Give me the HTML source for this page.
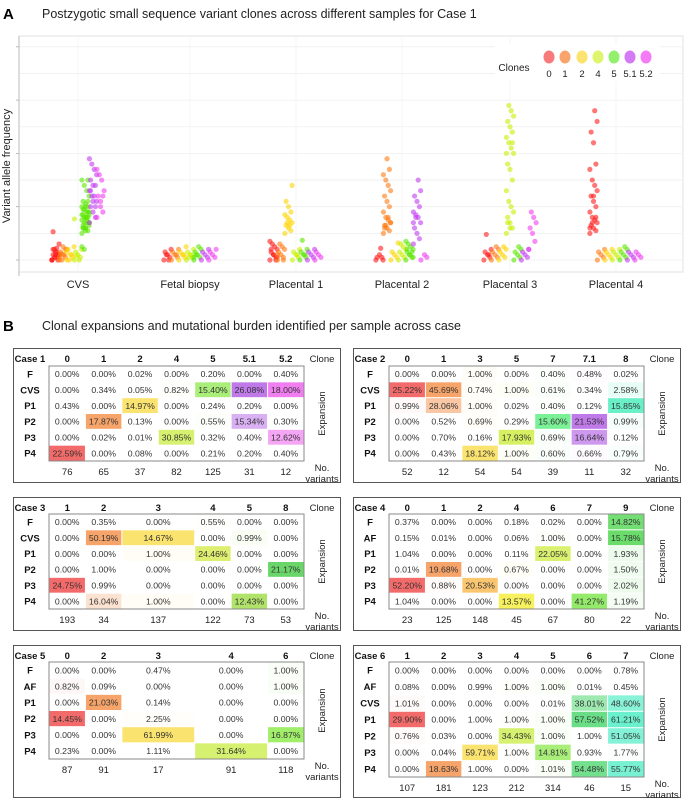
<!DOCTYPE html>
<html><head><meta charset="utf-8">
<style>
html,body{margin:0;padding:0;background:#fff;}
svg{display:block;font-family:"Liberation Sans",sans-serif;}
</style></head>
<body>
<svg id="root" width="685" height="799" viewBox="0 0 685 799" xmlns="http://www.w3.org/2000/svg">
<text x="3" y="19" font-size="15" font-weight="bold">A</text>
<text x="42" y="18" font-size="12.5" fill="#222">Postzygotic small sequence variant clones across different samples for Case 1</text>
<g id="scatter"></g>
<text x="3" y="331" font-size="15" font-weight="bold">B</text>
<text x="42" y="330" font-size="12.5" fill="#222">Clonal expansions and mutational burden identified per sample across case</text>
<g id="tables"></g>
</svg>
<script>
// ---------- Panel A data ----------
var samples = ["CVS","Fetal biopsy","Placental 1","Placental 2","Placental 3","Placental 4"];
var cloneLabels = ["0","1","2","4","5","5.1","5.2"];
var cloneColors = ["#ff1a1a","#ff7a10","#ffd400","#c8f000","#5ae600","#c23cf0","#f03cf0"];
var legendColors = ["#f87a7a","#f9a46c","#fbe36e","#dff56e","#92f06c","#d47af5","#f57af5"];
var vafCVS = [
 [0,0,0.005,0.01,0.01,0.015,0.02,0,0.005,0.01,0.02,0.03,0.022,0.005,0,0.01,0.015,0.053],
 [0,0.005,0.01,0.015,0.02,0.01,0,0.005,0.02,0.025,0.012],
 [0,0.005,0.01,0.02,0.025,0.01,0,0.015],
 [0,0.005,0.01,0.015,0.02,0,0.008,0.077],
 [0.05,0.055,0.06,0.06,0.065,0.07,0.07,0.075,0.08,0.08,0.085,0.09,0.09,0.095,0.1,0.1,0.105,0.11,0.12,0.13,0.14,0.15,0.15,0.06,0.065,0.07,0.075,0.08,0.085,0.09,0.055,0.06,0.07,0.08,0.02,0.025,0.11,0.1,0.095,0.085],
 [0.07,0.08,0.09,0.1,0.11,0.12,0.12,0.13,0.14,0.14,0.15,0.16,0.17,0.18,0.19,0.1,0.11,0.13],
 [0.08,0.09,0.11,0.12,0.13,0.15,0.16,0.17,0.12,0.1]
];
var vafFetal = [
 [0,0.005,0.01,0.015,0.02,0,0.01],
 [0,0.005,0.01,0.015,0.02,0.01],
 [0,0.005,0.01,0.015,0.025,0.01],
 [0,0.005,0.01,0.015,0.02,0.01,0.005],
 [0,0.005,0.01,0.015,0.02,0.025,0.01,0.005],
 [0,0.005,0.01,0.015,0.02],
 [0,0.005,0.01,0.015,0.02]
];
var vafP1 = [
 [0,0.005,0.01,0.015,0.02,0.025,0.03,0.035,0,0.01,0.02,0.005],
 [0,0.005,0.01,0.015,0.02,0.025,0.03,0.01,0],
 [0.05,0.055,0.06,0.065,0.07,0.075,0.08,0.085,0.09,0.1,0.11,0.14,0.065,0.07],
 [0,0.005,0.01,0.015,0.02,0.01],
 [0,0.005,0.01,0.015,0.02,0.01,0.037],
 [0,0.005,0.01,0.015,0.02],
 [0,0.005,0.01,0.015]
];
var vafP2 = [
 [0,0.005,0.01,0.005,0,0.022],
 [0.05,0.055,0.06,0.065,0.07,0.075,0.08,0.09,0.1,0.11,0.12,0.13,0.14,0.15,0.16,0.17,0.19,0.06,0.07,0.08,0.065],
 [0,0.005,0.01,0.015,0.032],
 [0,0.005,0.01,0.015,0.02,0.025,0.03],
 [0,0.005,0.01,0.015,0.02,0.025,0.03,0.035,0.015,0.01,0.02,0.005],
 [0.03,0.04,0.05,0.06,0.07,0.08,0.085,0.09,0.1,0.11,0.12,0.13,0.15,0.08,0.07],
 [0,0.005,0.01]
];
var vafP3 = [
 [0,0.005,0.01,0.015,0.02,0.01,0.048],
 [0,0.005,0.01,0.015,0.02,0.025],
 [0,0.005,0.01,0.015,0.02,0.025],
 [0.05,0.06,0.07,0.08,0.09,0.1,0.11,0.13,0.15,0.17,0.18,0.2,0.21,0.22,0.23,0.24,0.25,0.26,0.27,0.28,0.29,0.2,0.22,0.06,0.07],
 [0,0.005,0.01,0.015,0.02,0.025],
 [0,0.005,0.01,0.015,0.02],
 [0.02,0.035,0.05,0.06,0.07,0.08,0.09]
];
var vafP4 = [
 [0.05,0.055,0.06,0.065,0.07,0.075,0.08,0.09,0.1,0.11,0.12,0.13,0.14,0.15,0.17,0.18,0.22,0.24,0.26,0.28,0.07,0.06,0.08,0.12],
 [0,0.005,0.01,0.015,0.02],
 [0,0.005,0.01,0.015,0.02],
 [0,0.005,0.01,0.015,0.02],
 [0,0.005,0.01,0.015,0.02,0.025],
 [0,0.005,0.01,0.015],
 [0,0.005,0.01,0.015]
];
var vafData = [vafCVS, vafFetal, vafP1, vafP2, vafP3, vafP4];
var yTicks = [0,0.05,0.1,0.15,0.2,0.25,0.3,0.35,0.4];

var NS = "http://www.w3.org/2000/svg";
function mk(tag, attrs, parent){var e=document.createElementNS(NS,tag);for(var k in attrs)e.setAttribute(k,attrs[k]);parent.appendChild(e);return e;}

var plotL=19, plotR=683, plotT=36, plotB=272;
function yScale(v){return 260 - v*533;}
var groupCenters=[78,190,296,402,510,616];
function xScale(s,k,i){return groupCenters[s] + (k-3)*7.5 + (((i*5)%7)-3)*1.2;}

(function(){
 var g=document.getElementById('scatter');
 var bg=mk('rect',{x:plotL,y:plotT,width:plotR-plotL,height:plotB-plotT,fill:'#fff',stroke:'#e2e2e2'},g);
 
 
 yTicks.forEach(function(t,i){
  var ln=mk('line',{x1:plotL,x2:plotR,y1:yScale(t),y2:yScale(t),stroke:'#efefef','stroke-width':0.8},g);
  
  
  if(i%2===0){
   var tk=mk('line',{x1:plotL-3,x2:plotL,y1:yScale(t),y2:yScale(t),stroke:'#aaa','stroke-width':0.8},g);
   
   
  }
 });
 groupCenters.forEach(function(c){
  var v=mk('line',{x1:c,x2:c,y1:plotT,y2:plotB,stroke:'#f3f3f3','stroke-width':0.8},g);
  
  
 });
 var ax=mk('line',{x1:plotL,x2:plotL,y1:plotT,y2:plotB+4,stroke:'#bbb','stroke-width':1},g);
 
 
 var yt=mk('text',{x:0,y:0,'font-size':11,fill:'#222','text-anchor':'middle',transform:'translate(10,166) rotate(-90)'},g);
 yt.textContent='Variant allele frequency';
 
 
 samples.forEach(function(s,si){
  var t=mk('text',{x:groupCenters[si],y:288,'font-size':11,fill:'#222','text-anchor':'middle'},g);
  t.textContent=s;
  
  
 });
 vafData.forEach(function(sample,si){
  sample.forEach(function(vals,k){
   vals.forEach(function(v,i){
    var c=mk('circle',{cx:xScale(si,k,i),cy:yScale(v),r:2.6,fill:cloneColors[k],'fill-opacity':0.6},g);
    
    
   });
  });
 });
 var lb=mk('rect',{x:495,y:44,width:165,height:37,fill:'#fff'},g);
 
 
 var lt=mk('text',{x:514,y:71,'font-size':10,fill:'#222','text-anchor':'middle'},g);
 lt.textContent='Clones';
 
 
 var lx=[549,565,582,598,614,630,646];
 cloneLabels.forEach(function(l,k){
  var e=mk('ellipse',{cx:lx[k],cy:57,rx:5.5,ry:6.5,fill:legendColors[k]},g);
  
  
  var t=mk('text',{x:lx[k],y:77,'font-size':9.5,fill:'#222','text-anchor':'middle'},g);
  t.textContent=l;
  
  
 });
})();

// ---------- Panel B data ----------
var c1Clones=["0","1","2","4","5","5.1","5.2"];
var c1Rows=["F","CVS","P1","P2","P3","P4"];
var c1Vals=[[0,0,0.02,0,0.2,0,0.4],[0,0.34,0.05,0.82,15.4,26.08,18],[0.43,0,14.97,0,0.24,0.2,0],[0,17.87,0.13,0,0.55,15.34,0.3],[0,0.02,0.01,30.85,0.32,0.4,12.62],[22.59,0,0.08,0,0.21,0.2,0.4]];
var c1Var=[76,65,37,82,125,31,12];
var c2Clones=["0","1","3","5","7","7.1","8"];
var c2Rows=["F","CVS","P1","P2","P3","P4"];
var c2Vals=[[0,0,1,0,0.4,0.48,0.02],[25.22,45.69,0.74,1,0.61,0.34,2.58],[0.99,28.06,1,0.02,0.4,0.12,15.85],[0,0.52,0.69,0.29,15.6,21.53,0.99],[0,0.7,0.16,17.93,0.69,16.64,0.12],[0,0.43,18.12,1,0.6,0.66,0.79]];
var c2Var=[52,12,54,54,39,11,32];
var c3Clones=["1","2","3","4","5","8"];
var c3Rows=["F","CVS","P1","P2","P3","P4"];
var c3Vals=[[0,0.35,0,0.55,0,0],[0,50.19,14.67,0,0.99,0],[0,0,1,24.46,0,0],[0,1,0,0,0,21.17],[24.75,0.99,0,0,0,0],[0,16.04,1,0,12.43,0]];
var c3Var=[193,34,137,122,73,53];
var c4Clones=["0","1","2","4","6","7","9"];
var c4Rows=["F","AF","P1","P2","P3","P4"];
var c4Vals=[[0.37,0,0,0.18,0.02,0,14.82],[0.15,0.01,0,0.06,1,0,15.78],[1.04,0,0,0.11,22.05,0,1.93],[0.01,19.68,0,0.67,0,0,1.5],[52.2,0.88,20.53,0,0,0,2.02],[1.04,0,0,13.57,0,41.27,1.19]];
var c4Var=[23,125,148,45,67,80,22];
var c5Clones=["0","2","3","4","6"];
var c5Rows=["F","AF","P1","P2","P3","P4"];
var c5Vals=[[0,0,0.47,0,1],[0.82,0.09,0,0,1],[0,21.03,0.14,0,0],[14.45,0,2.25,0,0],[0,0,61.99,0,16.87],[0.23,0,1.11,31.64,0]];
var c5Var=[87,91,17,91,118];
var c6Clones=["1","2","3","4","5","6","7"];
var c6Rows=["F","AF","CVS","P1","P2","P3","P4"];
var c6Vals=[[0,0,0,0,0,0,0.78],[0.08,0,0.99,1,1,0.01,0.45],[1.01,0,0,0,0.01,38.01,48.6],[29.9,0,1,1,1,57.52,61.21],[0.76,0.03,0,34.43,1,1,51.05],[0,0.04,59.71,1,14.81,0.93,1.77],[0,18.63,1,0,1.01,54.48,55.77]];
var c6Var=[107,181,123,212,314,46,15];

var RED="#f25a5a",ORA="#f59a5a",YEL="#fbe060";
var tables=[
 {name:"Case 1",clones:c1Clones,rows:c1Rows,vals:c1Vals,variants:c1Var,colors:[RED,ORA,YEL,"#d2f060","#a0ec6a","#b86ae6","#ee70ee"],x:13,top:348,bottom:482,innerTop:366,innerBot:461,widths:[1,1,1,1,1,1,1]},
 {name:"Case 2",clones:c2Clones,rows:c2Rows,vals:c2Vals,variants:c2Var,colors:[RED,ORA,YEL,"#d2ee50","#6cf08c","#b86ae6","#5aeec0"],x:353,top:348,bottom:482,innerTop:366,innerBot:461,widths:[1,1,1,1,1,1,1]},
 {name:"Case 3",clones:c3Clones,rows:c3Rows,vals:c3Vals,variants:c3Var,colors:[RED,ORA,YEL,"#daec60","#a8e05a","#5ad25a"],x:13,top:497,bottom:630,innerTop:514,innerBot:609,widths:[1,1,2,1,1,1]},
 {name:"Case 4",clones:c4Clones,rows:c4Rows,vals:c4Vals,variants:c4Var,colors:[RED,ORA,"#fbc060","#f5f04a","#d6f060","#88e85a","#5ad85a"],x:353,top:497,bottom:630,innerTop:514,innerBot:609,widths:[1,1,1,1,1,1,1]},
 {name:"Case 5",clones:c5Clones,rows:c5Rows,vals:c5Vals,variants:c5Var,colors:[RED,ORA,YEL,"#d2f060","#96ec5a"],x:13,top:645,bottom:797,innerTop:662,innerBot:759,widths:[1,1,2,2,1]},
 {name:"Case 6",clones:c6Clones,rows:c6Rows,vals:c6Vals,variants:c6Var,colors:[RED,ORA,YEL,"#d2f060","#a0ec6a","#5ada7a","#5aeec8"],x:353,top:645,bottom:797,innerTop:662,innerBot:777,widths:[1,1,1,1,1,1,1]}
];

(function(){
 var g=document.getElementById('tables');
 tables.forEach(function(T,ti){
  var tg=mk('g',{},g);
  
  
  var box=mk('rect',{x:T.x+0.5,y:T.top+0.5,width:327,height:T.bottom-T.top,fill:'none',stroke:'#555','stroke-width':1},tg);
  
  
  var iL=T.x+36, iR=T.x+291;
  var tot=T.widths.reduce(function(a,b){return a+b;},0);
  var edges=[iL]; T.widths.forEach(function(w,i){edges.push(edges[i]+w*(iR-iL)/tot);});
  var nR=T.rows.length, rh=(T.innerBot-T.innerTop)/nR;
  var hy=T.top+14;
  var ct=mk('text',{x:T.x+17,y:hy,'font-size':9.5,'font-weight':'bold','text-anchor':'middle',fill:'#111'},tg);
  ct.textContent=T.name;
  
  
  var cl=mk('text',{x:T.x+309,y:hy,'font-size':9.5,'text-anchor':'middle',fill:'#222'},tg);
  cl.textContent='Clone';
  
  
  var colMax=T.clones.map(function(_,c){var m=0;T.vals.forEach(function(r){if(r[c]>m)m=r[c];});return m;});
  T.clones.forEach(function(cn,c){
   var cx=(edges[c]+edges[c+1])/2;
   var h=mk('text',{x:cx,y:hy,'font-size':9.5,'font-weight':'bold','text-anchor':'middle',fill:'#111'},tg);
   h.textContent=cn;
   
   
   var v=mk('text',{x:cx,y:T.innerBot+14,'font-size':9.5,'text-anchor':'middle',fill:'#222'},tg);
   v.textContent=T.variants[c];
   
   
  });
  T.rows.forEach(function(rn,r){
   var y0=T.innerTop+r*rh;
   var rl=mk('text',{x:T.x+17,y:y0+rh/2+3.5,'font-size':9.5,'font-weight':'bold','text-anchor':'middle',fill:'#111'},tg);
   rl.textContent=rn;
   
   
   T.vals[r].forEach(function(val,c){
    var a=colMax[c]>0?Math.min(1,val/colMax[c])*0.9:0;
    if(a>0.02){
     var cell=mk('rect',{x:edges[c]+0.5,y:y0+0.5,width:edges[c+1]-edges[c]-1,height:rh-1,fill:T.colors[c],'fill-opacity':a},tg);
     
     
    }
    var t=mk('text',{x:(edges[c]+edges[c+1])/2,y:y0+rh/2+3.2,'font-size':8.7,'text-anchor':'middle',fill:'#333'},tg);
    t.textContent=val.toFixed(2)+'%';
    
    
   });
  });
  var ib=mk('rect',{x:iL,y:T.innerTop,width:iR-iL,height:T.innerBot-T.innerTop,fill:'none',stroke:'#888','stroke-width':1},tg);
  
  
  var my=(T.innerTop+T.innerBot)/2;
  var ex=mk('text',{x:0,y:0,'font-size':9.5,'text-anchor':'middle',fill:'#222',transform:'translate('+(T.x+312)+','+my+') rotate(-90)'},tg);
  ex.textContent='Expansion';
  
  
  var n1=mk('text',{x:T.x+309,y:T.innerBot+10,'font-size':9.5,'text-anchor':'middle',fill:'#222'},tg);
  n1.textContent='No.';
  
  
  var n2=mk('text',{x:T.x+309,y:T.innerBot+21,'font-size':9.5,'text-anchor':'middle',fill:'#222'},tg);
  n2.textContent='variants';
  
  
 });
})();
</script>
</body></html>
